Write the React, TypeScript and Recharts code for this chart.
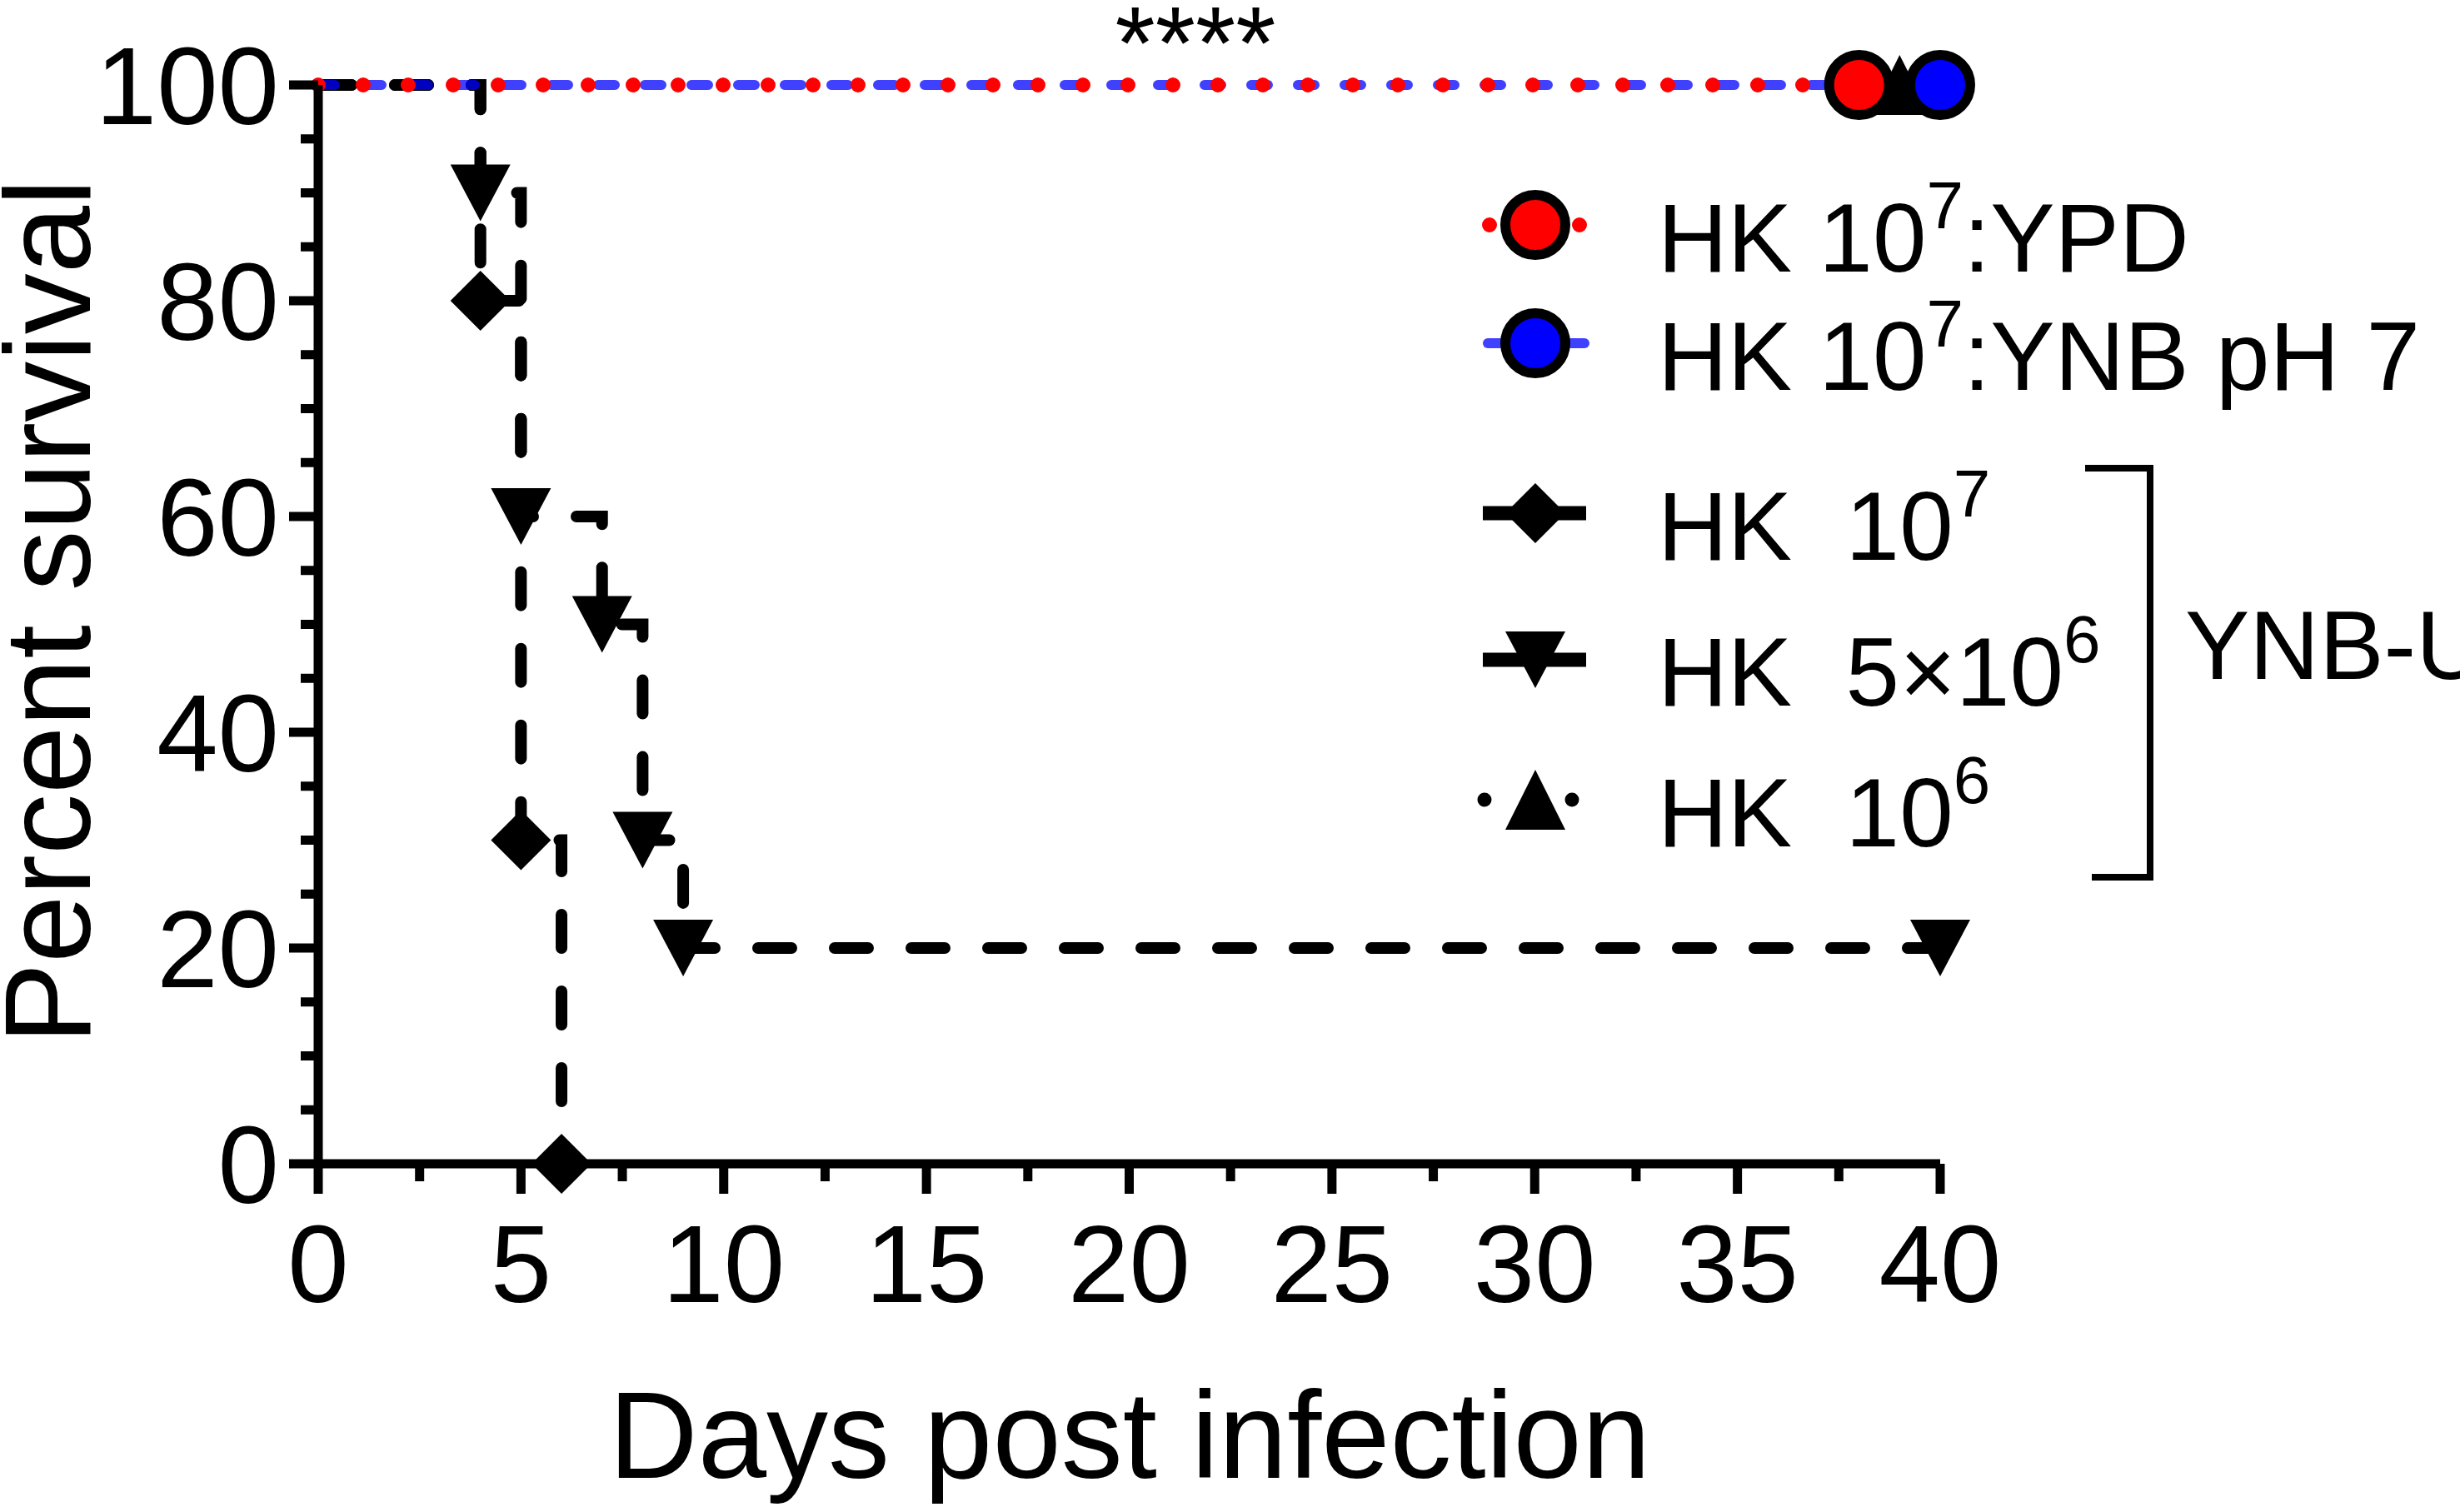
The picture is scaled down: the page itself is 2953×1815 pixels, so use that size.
import React from 'react';
import { LineChart, Line, XAxis, YAxis } from 'recharts';

const FONT = '"Liberation Sans", Arial, Helvetica, sans-serif';

const xTicks = [0, 2.5, 5, 7.5, 10, 12.5, 15, 17.5, 20, 22.5, 25, 27.5, 30, 32.5, 35, 37.5, 40];
const yTicks = [0, 5, 10, 15, 20, 25, 30, 35, 40, 45, 50, 55, 60, 65, 70, 75, 80, 85, 90, 95, 100];

const ypdDays = [0, 38];
const ypdSurv = [100, 100];
const ynbDays = [0, 40];
const ynbSurv = [100, 100];
const hk7Days = [0, 4, 5, 6];
const hk7Surv = [100, 80, 30, 0];
const hk5Days = [0, 4, 5, 7, 8, 9, 40];
const hk5Surv = [100, 90, 60, 50, 30, 20, 20];
const hk6Days = [0, 39];
const hk6Surv = [100, 100];

const toRows = (days: number[], surv: number[]) => days.map((d, i) => ({ d, s: surv[i] }));

const ypdData = toRows(ypdDays, ypdSurv);
const ynbData = toRows(ynbDays, ynbSurv);
const hk7Data = toRows(hk7Days, hk7Surv);
const hk5Data = toRows(hk5Days, hk5Surv);
const hk6Data = toRows(hk6Days, hk6Surv);

type Shape = 'circle' | 'diamond' | 'down' | 'up';

function Marker({ shape, cx, cy, fill }: { shape: Shape; cx: number; cy: number; fill: string }) {
  if (shape === 'circle') {
    return <circle cx={cx} cy={cy} r={36} fill={fill} stroke="#000" strokeWidth={12} />;
  }
  if (shape === 'diamond') {
    return (
      <polygon
        points={`${cx},${cy - 36} ${cx + 36},${cy} ${cx},${cy + 36} ${cx - 36},${cy}`}
        fill="#000"
      />
    );
  }
  if (shape === 'down') {
    return <polygon points={`${cx - 36},${cy - 34} ${cx + 36},${cy - 34} ${cx},${cy + 34}`} fill="#000" />;
  }
  return <polygon points={`${cx - 36},${cy + 36} ${cx + 36},${cy + 36} ${cx},${cy - 36}`} fill="#000" />;
}

const dotFor = (shape: Shape, fill: string, name: string) => (props: any) => {
  const { cx, cy, index } = props;
  if (index === 0 || cx == null || cy == null) return <g key={`${name}-${index}`} />;
  return (
    <g key={`${name}-${index}`}>
      <Marker shape={shape} cx={cx} cy={cy} fill={fill} />
    </g>
  );
};

const YTick = (props: any) => {
  const { x, y, payload } = props;
  const v = payload.value;
  const major = v % 20 === 0;
  return (
    <g>
      <line x1={x} x2={x - (major ? 35 : 21)} y1={y} y2={y} stroke="#000" strokeWidth={11} />
      {major && (
        <text x={x - 47} y={y + 47} textAnchor="end" fontSize={132} fontFamily={FONT} fill="#000">
          {v}
        </text>
      )}
    </g>
  );
};

const XTick = (props: any) => {
  const { x, y, payload } = props;
  const v = payload.value;
  const major = v % 5 === 0;
  return (
    <g>
      <line x1={x} x2={x} y1={y} y2={y + (major ? 36 : 21)} stroke="#000" strokeWidth={11} />
      {major && (
        <text x={x} y={y + 166} textAnchor="middle" fontSize={132} fontFamily={FONT} fill="#000">
          {v}
        </text>
      )}
    </g>
  );
};

const BLUE_LINE = '#0000ff';
const RED = '#ff0000';

function LegendBlock() {
  const tx = 1990;
  const sx = 1843;
  const fs = 116;
  const sup = 80;
  return (
    <g fontFamily={FONT} fill="#000">
      {/* YPD */}
      <line x1={1788} x2={1900} y1={270} y2={270} stroke={RED} strokeWidth={18} strokeLinecap="round" strokeDasharray="0 108" />
      <Marker shape="circle" cx={sx} cy={270} fill={RED} />
      <text x={tx} y={326} fontSize={fs}>
        HK 10<tspan dy={-52} fontSize={sup}>7</tspan>
        <tspan dy={52} fontSize={fs}>:YPD</tspan>
      </text>
      {/* YNB pH 7 */}
      <line x1={1786} x2={1902} y1={412} y2={412} stroke={BLUE_LINE} strokeOpacity={0.75} strokeWidth={12} strokeLinecap="round" />
      <Marker shape="circle" cx={sx} cy={412} fill="#0000ff" />
      <text x={tx} y={468} fontSize={fs}>
        HK 10<tspan dy={-52} fontSize={sup}>7</tspan>
        <tspan dy={52} fontSize={fs}>:YNB pH 7</tspan>
      </text>
      {/* HK 10^7 */}
      <line x1={1780} x2={1904} y1={616} y2={616} stroke="#000" strokeWidth={17} />
      <Marker shape="diamond" cx={sx} cy={616} fill="#000" />
      <text x={tx} y={672} fontSize={fs}>
        HK{'\u00A0'} 10<tspan dy={-52} fontSize={sup}>7</tspan>
      </text>
      {/* HK 5x10^6 */}
      <line x1={1780} x2={1904} y1={792} y2={792} stroke="#000" strokeWidth={17} />
      <Marker shape="down" cx={sx} cy={792} fill="#000" />
      <text x={tx} y={847} fontSize={fs}>
        HK{'\u00A0'} 5×10<tspan dy={-52} fontSize={sup}>6</tspan>
      </text>
      {/* HK 10^6 */}
      <line x1={1782} x2={1890} y1={960} y2={960} stroke="#000" strokeWidth={17} strokeLinecap="round" strokeDasharray="0 105" />
      <Marker shape="up" cx={sx} cy={960} fill="#000" />
      <text x={tx} y={1016} fontSize={fs}>
        HK{'\u00A0'} 10<tspan dy={-52} fontSize={sup}>6</tspan>
      </text>
      {/* bracket */}
      <polyline points="2503,562 2581,562 2581,1053 2511,1053" fill="none" stroke="#000" strokeWidth={8} />
      <text x={2623} y={815} fontSize={fs}>YNB-U</text>
    </g>
  );
}

export default function App() {
  return (
    <div style={{ position: 'absolute', left: 0, top: 0, background: '#fff' }}>
      <LineChart
        width={2953}
        height={1815}
        margin={{ top: 102, right: 624, bottom: 118, left: 0 }}
        style={{ background: '#fff' }}
      >
        <XAxis
          dataKey="d"
          type="number"
          domain={[0, 40]}
          ticks={xTicks}
          interval={0}
          tickSize={0}
          tickMargin={0}
          tickLine={false}
          axisLine={{ stroke: '#000', strokeWidth: 11 }}
          tick={XTick}
          height={300}
        />
        <YAxis
          dataKey="s"
          type="number"
          domain={[0, 100]}
          ticks={yTicks}
          interval={0}
          tickSize={0}
          tickMargin={0}
          tickLine={false}
          axisLine={{ stroke: '#000', strokeWidth: 11 }}
          tick={YTick}
          width={382}
        />
        <Line
          data={hk6Data}
          dataKey="s"
          type="stepAfter"
          stroke="#000"
          strokeWidth={10}
          strokeLinecap="round"
          strokeDasharray="0 54"
          dot={dotFor('up', '#000', 'hk6')}
          activeDot={false}
          isAnimationActive={false}
        />
        <Line
          data={hk5Data}
          dataKey="s"
          type="stepAfter"
          stroke="#000"
          strokeWidth={14}
          strokeLinecap="round"
          strokeDasharray="40 52"
          dot={dotFor('down', '#000', 'hk5')}
          activeDot={false}
          isAnimationActive={false}
        />
        <Line
          data={hk7Data}
          dataKey="s"
          type="stepAfter"
          stroke="#000"
          strokeWidth={14}
          strokeLinecap="round"
          strokeDasharray="40 52"
          dot={dotFor('diamond', '#000', 'hk7')}
          activeDot={false}
          isAnimationActive={false}
        />
        <Line
          data={ynbData}
          dataKey="s"
          type="stepAfter"
          stroke={BLUE_LINE}
          strokeOpacity={0.75}
          strokeWidth={12}
          strokeLinecap="round"
          strokeDasharray="20 36"
          dot={dotFor('circle', '#0000ff', 'ynb')}
          activeDot={false}
          isAnimationActive={false}
        />
        <Line
          data={ypdData}
          dataKey="s"
          type="stepAfter"
          stroke={RED}
          strokeWidth={18}
          strokeLinecap="round"
          strokeDasharray="0 54"
          dot={dotFor('circle', RED, 'ypd')}
          activeDot={false}
          isAnimationActive={false}
        />
        <text
          x={108}
          y={734}
          transform="rotate(-90, 108, 734)"
          textAnchor="middle"
          fontSize={146}
          fontFamily={FONT}
          fill="#000"
        >
          Percent survival
        </text>
        <text x={1356} y={1774} textAnchor="middle" fontSize={148} fontFamily={FONT} fill="#000">
          Days post infection
        </text>
        <text x={1435} y={95} textAnchor="middle" fontSize={124} fontFamily={FONT} fill="#000">
          ****
        </text>
        <LegendBlock />
      </LineChart>
    </div>
  );
}
